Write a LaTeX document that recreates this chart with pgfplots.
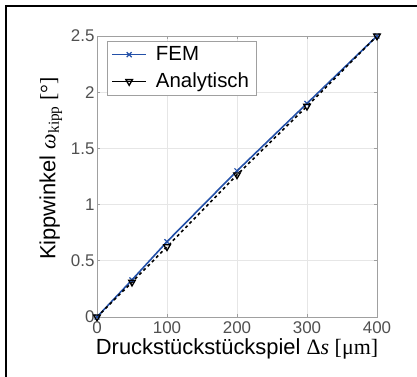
\documentclass[border=0pt]{standalone}
\usepackage{pgfplots}
\pgfplotsset{compat=1.18}
\usepackage{fontspec}
\setmainfont{Liberation Sans}
\newfontfamily\serif{Liberation Serif}
\definecolor{femblue}{HTML}{2350A8}
\definecolor{ticklab}{HTML}{505050}
\definecolor{axgray}{HTML}{A0A0A0}
\definecolor{gridc}{HTML}{E6E6E6}
\begin{document}
\begin{tikzpicture}[x=1bp,y=1bp]
\useasboundingbox (0,0) rectangle (417,377);
\draw[line width=1.2bp] (6,0) -- (6,371) -- (417,371);
\begin{axis}[
  at={(97bp,60bp)}, anchor=south west,
  scale only axis, width=280bp, height=281bp,
  xmin=0, xmax=400, ymin=0, ymax=2.5,
  xtick={0,100,200,300,400},
  ytick={0,0.5,1,1.5,2,2.5},
  yticklabels={0,0.5,1,1.5,2,2.5},
  /pgf/number format/assume math mode=true,
  ticklabel style={font=\fontsize{17}{20}\selectfont, text=ticklab},
  xticklabel style={yshift=-1bp},
  yticklabel style={xshift=1bp},
  grid=major,
  major grid style={gridc, line width=0.8bp},
  axis line style={axgray, line width=0.8bp},
  tick style={axgray, line width=0.6bp},
  major tick length=3bp,
  tick align=inside,
  xlabel={Druckstückstückspiel {\serif Δ\textit{s} [μm]}},
  ylabel={Kippwinkel {\serif\textit{ω}\textsubscript{kipp} [°]}},
  label style={font=\fontsize{22}{26}\selectfont},
  xlabel style={yshift=2bp},
  ylabel style={yshift=2bp, xshift=8bp},
  legend style={at={(rel axis cs:0.036,0.982)}, anchor=north west,
    font=\fontsize{20.5}{24}\selectfont, draw=axgray, line width=0.6bp,
    inner xsep=4bp, inner ysep=2bp, row sep=4bp, cells={anchor=west},
    nodes={inner sep=3bp, text depth=0.25em}},
  legend cell align=left,
  legend image code/.code={%
    \draw[mark repeat=2,mark phase=2,#1,solid]
      plot coordinates {(0bp,0bp) (17bp,0bp) (34bp,0bp)};},
  clip=false,
]
\addplot[femblue, line width=1.6bp, mark=x, mark size=3.5bp, mark options={solid, line width=1.2bp}]
  coordinates {(0,0) (50,0.33) (100,0.67) (200,1.30) (300,1.90) (400,2.50)};
\addlegendentry{\hspace{6bp}FEM\hspace{8bp}}
\addplot[black, line width=1.6bp, dashed, mark=triangle, mark size=3.8bp,
  mark options={solid, rotate=180, line width=1.3bp, fill=white}]
  coordinates {(0,0) (50,0.31) (100,0.625) (200,1.265) (300,1.875) (400,2.50)};
\addlegendentry{\hspace{6bp}Analytisch\hspace{8bp}}
\end{axis}
\end{tikzpicture}
\end{document}
